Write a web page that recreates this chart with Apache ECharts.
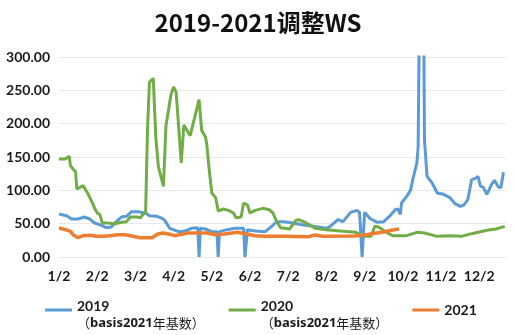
<!DOCTYPE html>
<html>
<head>
<meta charset="utf-8">
<script src="https://cdn.jsdelivr.net/npm/echarts@6/dist/echarts.min.js"></script>
<style>
  html, body { margin: 0; padding: 0; background: #fff; }
  #chart { width: 516px; height: 335px; }
</style>
</head>
<body>
<div id="chart"></div>
<script>
// Day counter from 1/2 (30 days per month on the axis)
const monthTicks = ['1/2', '2/2', '3/2', '4/2', '5/2', '6/2', '7/2', '8/2', '9/2', '10/2', '11/2', '12/2'];
const yTicks = [0, 50, 100, 150, 200, 250, 300];

// 2019 (basis 2021 base)
const days2019 = [0, 6, 10, 15, 20, 24, 28, 34, 37, 41, 45, 49, 53, 57, 62, 68, 71, 77, 81, 83, 87, 94, 99, 104, 109, 110, 111, 115, 120, 124, 125, 126, 132, 138, 145, 146, 148, 154, 162, 167, 171, 176, 184, 192, 200, 210, 213, 219, 223, 229, 234, 236, 238, 240, 244, 250, 255, 260, 264, 266, 268, 269, 273, 276, 278, 281, 282, 285, 287, 289, 293, 297, 302, 307, 311, 315, 318, 321, 324, 327, 329, 331, 333, 336, 340, 342, 345, 347, 349];
const vals2019 = [64.5, 62, 57, 57, 60, 57, 51, 47, 44, 45, 53, 60, 61, 68, 68, 66, 62, 61, 58, 55, 43, 38, 39, 43, 44, 0, 43, 42, 38, 38, 0, 38, 41, 43, 43, 0, 41, 39, 38, 46, 53, 53, 51, 48, 46, 43, 46, 56, 53, 67, 70, 67, 0, 67, 58, 52, 53, 62, 71, 72, 64, 81, 91, 100, 118, 141, 165, 750, 175, 121, 111, 96, 94, 89, 80, 76, 78, 86, 116, 118, 121, 106, 105, 94, 110, 115, 105, 104, 127];

// 2020 (basis 2021 base)
const days2020 = [0, 5, 8, 9, 11, 13, 14, 16, 19, 20, 23, 26, 28, 30, 32, 34, 38, 44, 49, 53, 56, 61, 64, 66, 68, 69.5, 71, 74, 76, 78, 82, 84, 88, 90, 92, 96, 98, 103, 110, 112, 115, 116, 118, 120, 123, 125, 129, 133, 137, 139, 143, 145, 148, 150, 154, 160, 165, 168, 171, 174, 181, 186, 188, 192, 196, 201, 210, 221, 233, 240, 245, 248, 251, 257, 262, 273, 281, 287, 297, 307, 316, 324, 331, 336, 343, 350];
const vals2020 = [147, 147, 151, 137, 132, 128, 102, 104, 107, 104, 94, 82, 73, 66, 64, 51, 51, 50, 52, 53, 60, 60, 59, 64, 66, 190, 262, 268, 180, 136, 106, 197, 244, 255, 247, 141, 198, 182, 236, 190, 180, 170, 130, 96, 89, 69, 72, 70, 66, 59, 60, 81, 78, 66, 70, 73, 71, 66, 53, 44, 42, 55, 56, 53, 49, 43, 41, 39, 37, 31, 31, 46, 45, 37, 32, 32, 37, 36, 31, 32, 31, 35, 38, 40, 42, 46];

// 2021
const days2021 = [0, 5, 9, 11, 15, 19, 24, 30, 35, 40, 46, 52, 58, 64, 73, 78, 82, 86, 91, 101, 109, 116, 123, 130, 140, 146, 154, 162, 177, 196, 201, 207, 232, 240, 248, 256, 261, 267];
const vals2021 = [43.5, 41, 38.5, 33.5, 29, 32, 32.5, 31, 31, 32, 33.5, 33.5, 31, 29, 29, 35, 36, 34.5, 32, 36, 36, 36, 33.5, 34.5, 37, 35, 32, 31, 31, 30.5, 33, 31, 31.5, 33, 35.5, 38, 40, 42];

const pairs = (xs, ys) => xs.map((x, i) => [x, ys[i]]);

const chart = echarts.init(document.getElementById('chart'), null, { renderer: 'canvas' });

const subLine = '{b|（}{c|basis2021}{d|年基数}{b|）}';

chart.setOption({
  animation: false,
  backgroundColor: '#ffffff',
  title: {
    text: '2019-2021调整WS',
    left: 'center',
    top: 6,
    textStyle: {
      fontFamily: '"Noto Sans CJK SC", "Noto Sans", sans-serif',
      fontSize: 24,
      fontWeight: 'bold',
      color: '#111'
    }
  },
  grid: { left: 59, right: 10, top: 57, bottom: 78, containLabel: false },
  xAxis: {
    type: 'value',
    min: 0,
    max: 351,
    interval: 30,
    axisLine: { show: false },
    axisTick: { show: false },
    splitLine: { show: false },
    axisLabel: {
      margin: 12,
      showMaxLabel: false,
      fontFamily: 'Lato, "Noto Sans", sans-serif',
      fontWeight: 'bold',
      fontSize: 14,
      color: '#1a1a1a',
      formatter: v => (v % 30 === 0 ? monthTicks[v / 30] || '' : '')
    }
  },
  yAxis: {
    type: 'value',
    min: yTicks[0],
    max: yTicks[yTicks.length - 1],
    interval: 50,
    axisLine: { show: false },
    axisTick: { show: false },
    splitLine: { lineStyle: { color: '#e8e8e8', width: 1 } },
    axisLabel: {
      margin: 9,
      fontFamily: 'Lato, "Noto Sans", sans-serif',
      fontWeight: 'bold',
      fontSize: 14,
      color: '#1a1a1a',
      formatter: v => v.toFixed(2)
    }
  },
  legend: {
    left: 40,
    top: 283,
    icon: 'rect',
    itemWidth: 27,
    itemHeight: 3,
    itemGap: 24,
    data: ['2019', '2020', '2021'],
    formatter: name => name === '2021'
      ? '{a|' + name + '}'
      : '{e| }\n{a|' + name + '}\n' + subLine,
    textStyle: {
      padding: 0,
      rich: {
        e: { fontSize: 10, lineHeight: 10 },
        a: { fontFamily: 'Lato, "Noto Sans", sans-serif', fontWeight: 'bold', fontSize: 14, lineHeight: 17, color: '#1a1a1a' },
        b: { fontFamily: '"Noto Sans CJK SC", sans-serif', fontSize: 13, lineHeight: 17, color: '#1a1a1a' },
        c: { fontFamily: '"Noto Sans", sans-serif', fontWeight: 'bold', fontSize: 13, lineHeight: 17, color: '#1a1a1a' },
        d: { fontFamily: '"Noto Sans CJK SC", sans-serif', fontSize: 13, lineHeight: 17, color: '#1a1a1a' }
      }
    }
  },
  series: [
    {
      name: '2019', type: 'line', data: pairs(days2019, vals2019),
      showSymbol: false, symbol: 'none', clip: true,
      lineStyle: { color: '#5b9bd5', width: 3 }, itemStyle: { color: '#5b9bd5' }
    },
    {
      name: '2020', type: 'line', data: pairs(days2020, vals2020),
      showSymbol: false, symbol: 'none', clip: true,
      lineStyle: { color: '#70ad47', width: 3 }, itemStyle: { color: '#70ad47' }
    },
    {
      name: '2021', type: 'line', data: pairs(days2021, vals2021),
      showSymbol: false, symbol: 'none', clip: true,
      lineStyle: { color: '#ed7d31', width: 3.5 }, itemStyle: { color: '#ed7d31' }
    }
  ]
});
</script>
</body>
</html>
